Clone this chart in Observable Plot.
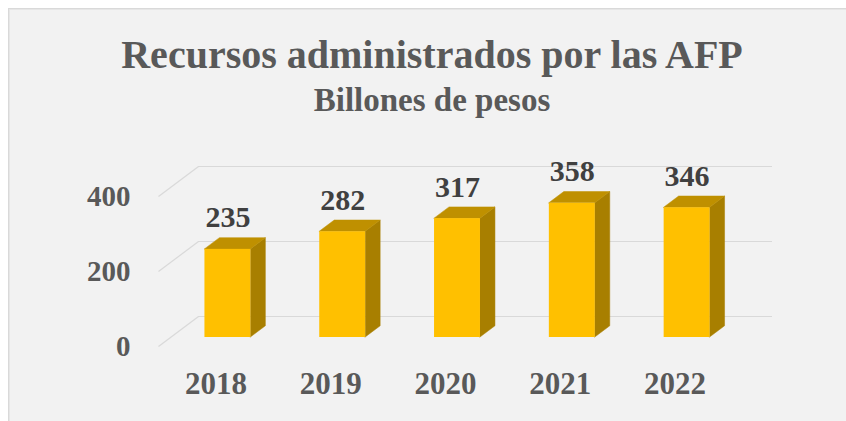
<!DOCTYPE html>
<html>
<head>
<meta charset="utf-8">
<script src="https://cdn.jsdelivr.net/npm/d3@7"></script>
<script src="https://cdn.jsdelivr.net/npm/@observablehq/plot@0.6"></script>
<style>
  html, body { margin: 0; padding: 0; background: #ffffff; overflow: hidden; }
  body { width: 846px; height: 421px; position: relative; font-family: "Liberation Serif", "Times New Roman", serif; }
  #panel { position: absolute; left: 8px; top: 8px; width: 850px; height: 420px; background: #f2f2f2;
           border: 1px solid #d9d9d9; box-shadow: inset 1px 1px 0 #e6e6e6; box-sizing: border-box; }
  .ttl { position: absolute; left: 0; width: 864px; text-align: center; font-weight: bold; color: #595959; line-height: 1; white-space: nowrap; }
  #title { top: 35px; font-size: 40px; }
  #subtitle { top: 84px; font-size: 33px; }
  #chart { position: absolute; left: 0; top: 130px; }
</style>
</head>
<body>
<div id="panel"></div>
<div id="title" class="ttl">Recursos administrados por las AFP</div>
<div id="subtitle" class="ttl">Billones de pesos</div>
<div id="chart"></div>
<script>
// ---- data ----
const years = ["2018", "2019", "2020", "2021", "2022"];
const values = [235, 282, 317, 358, 346];
const yTicks = [0, 200, 400];

// ---- layout ----
const W = 846, H = 291;
const ML = 158, MR = 114, MT = 66, MB = 75;
const kx = (W - ML - MR) / years.length;   // px per category unit
const ky = (H - MT - MB) / 400;            // px per value unit
const WALL_DX = 40, WALL_DY = 30;          // depth of the box (px)
const FDX = 12, FDY = 9;                   // bar front offset from front plane (px)
const BDX = 15, BDY = 11.25;               // bar depth (px)
const BW = 0.4;                            // bar width (category units)

const data = years.map((year, i) => ({year, i, value: values[i]}));
const dxu = BDX / kx, dyu = BDY / ky;

const sideData = data.flatMap(d => [
  {year: d.year, x: d.i + BW / 2, y1: 0, y2: d.value},
  {year: d.year, x: d.i + BW / 2 + dxu, y1: dyu, y2: d.value + dyu}
]);
const topData = data.flatMap(d => [
  {year: d.year, y: d.value, x1: d.i - BW / 2, x2: d.i + BW / 2},
  {year: d.year, y: d.value + dyu, x1: d.i - BW / 2 + dxu, x2: d.i + BW / 2 + dxu}
]);

const font = "Liberation Serif";

const chart = Plot.plot({
  width: W,
  height: H,
  marginLeft: ML,
  marginRight: MR,
  marginTop: MT,
  marginBottom: MB,
  x: {type: "linear", domain: [-0.5, years.length - 0.5], axis: null},
  y: {domain: [0, 400], axis: null},
  style: {background: "transparent", fontFamily: font, overflow: "visible"},
  marks: [
    // back wall gridlines
    Plot.ruleY(yTicks, {dx: WALL_DX, dy: -WALL_DY, stroke: "#d9d9d9", strokeWidth: 1.2}),
    // side wall diagonals
    Plot.link(yTicks, {
      x1: () => -0.5, x2: () => -0.5 + WALL_DX / kx,
      y1: d => d, y2: d => d + WALL_DY / ky,
      stroke: "#d9d9d9", strokeWidth: 1.2
    }),
    // bar side faces
    Plot.areaY(sideData, {x: "x", y1: "y1", y2: "y2", z: "year", fill: "#a87f00", stroke: "#a87f00", strokeWidth: 0.5, dx: FDX, dy: -FDY}),
    // bar top faces
    Plot.areaX(topData, {y: "y", x1: "x1", x2: "x2", z: "year", fill: "#bf9000", stroke: "#bf9000", strokeWidth: 0.5, dx: FDX, dy: -FDY}),
    // bar front faces
    Plot.rect(data, {x1: d => d.i - BW / 2, x2: d => d.i + BW / 2, y1: () => 0, y2: "value", fill: "#ffc000", dx: FDX, dy: -FDY}),
    // data labels
    Plot.text(data, {x: "i", y: "value", text: d => String(d.value), dx: FDX, dy: -FDY - 22, lineAnchor: "bottom",
      fontSize: 30, fontWeight: "bold", fill: "#404040", fontFamily: font}),
    // y axis labels
    Plot.text(yTicks, {frameAnchor: "left", y: d => d, text: d => String(d), textAnchor: "end", dx: -28,
      fontSize: 29, fontWeight: "bold", fill: "#595959", fontFamily: font}),
    // x axis labels
    Plot.text(data, {x: "i", y: () => 0, text: "year", dy: 38, fontSize: 31, fontWeight: "bold", fill: "#595959", fontFamily: font})
  ]
});
document.getElementById("chart").appendChild(chart);
</script>
</body>
</html>
